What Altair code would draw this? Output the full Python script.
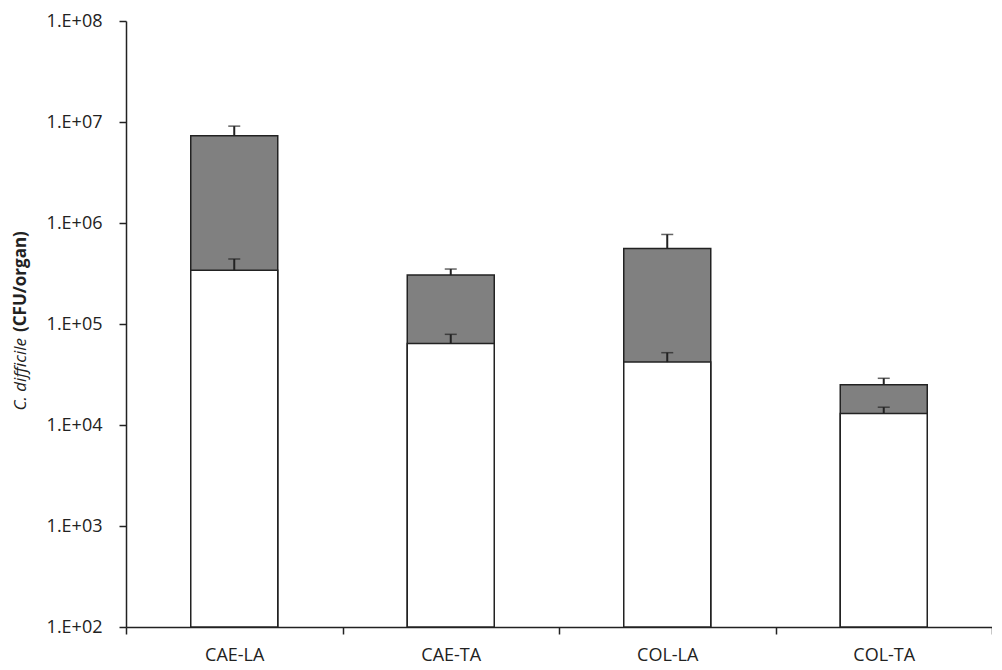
import altair as alt
import pandas as pd

categories = ["CAE-LA", "CAE-TA", "COL-LA", "COL-TA"]
grey_values = [7.3e6, 3.05e5, 5.6e5, 2.5e4]
grey_err_top = [9.1e6, 3.5e5, 7.7e5, 2.9e4]
white_values = [3.4e5, 6.4e4, 4.2e4, 1.3e4]
white_err_top = [4.4e5, 7.9e4, 5.2e4, 1.5e4]
baseline = [1e2, 1e2, 1e2, 1e2]
y_ticks = [1e2, 1e3, 1e4, 1e5, 1e6, 1e7, 1e8]
title_italic = "C. difficile"
title_bold = "(CFU/organ)"

df = pd.DataFrame({
    "cat": categories,
    "grey": grey_values,
    "grey_err": grey_err_top,
    "white": white_values,
    "white_err": white_err_top,
    "base": baseline,
})

FONT = "Open Sans"
INK = "#222222"

x_enc = alt.X(
    "cat:N", sort=categories,
    scale=alt.Scale(paddingInner=0, paddingOuter=0),
    axis=alt.Axis(title=None, labelAngle=0, tickBand="extent", tickSize=7,
                  labelPadding=12, labelFont=FONT, labelFontSize=18,
                  domainColor=INK, tickColor=INK, domainWidth=1.5,
                  tickWidth=1.5, labelColor=INK, grid=False),
)
y_scale = alt.Scale(type="log", domain=[1e2, 1e8], nice=False)
y_axis = alt.Axis(values=y_ticks, title=None, grid=False,
                  labelExpr="'1.E+0' + round(log(datum.value)/LN10)",
                  tickSize=7, labelPadding=17, labelFont=FONT, labelFontSize=18,
                  domainColor=INK, tickColor=INK, domainWidth=1.5,
                  tickWidth=1.5, labelColor=INK)

base = alt.Chart(df)

grey_bar = base.mark_bar(size=87, color="#808080", stroke=INK, strokeWidth=1.5).encode(
    x=x_enc, y=alt.Y("grey:Q", scale=y_scale, axis=y_axis), y2="base:Q")
grey_rule = base.mark_rule(color=INK, strokeWidth=2).encode(
    x=x_enc, y=alt.Y("grey:Q", scale=y_scale, axis=y_axis), y2="grey_err:Q")
grey_cap = base.mark_tick(size=12, thickness=1.5, color=INK).encode(
    x=x_enc, y=alt.Y("grey_err:Q", scale=y_scale, axis=y_axis))
white_bar = base.mark_bar(size=87, color="white", stroke=INK, strokeWidth=1.5).encode(
    x=x_enc, y=alt.Y("white:Q", scale=y_scale, axis=y_axis), y2="base:Q")
white_rule = base.mark_rule(color=INK, strokeWidth=2).encode(
    x=x_enc, y=alt.Y("white:Q", scale=y_scale, axis=y_axis), y2="white_err:Q")
white_cap = base.mark_tick(size=12, thickness=1.5, color=INK).encode(
    x=x_enc, y=alt.Y("white_err:Q", scale=y_scale, axis=y_axis))

t1 = alt.Chart(pd.DataFrame({"t": [title_italic]})).mark_text(
    angle=270, align="right", baseline="middle", font=FONT, fontSize=17,
    fontStyle="italic", fill=INK).encode(
    text="t:N", x=alt.value(-105), y=alt.value(317))
t2 = alt.Chart(pd.DataFrame({"t": [title_bold]})).mark_text(
    angle=270, align="left", baseline="middle", font=FONT, fontSize=17,
    fontWeight="bold", fill=INK).encode(
    text="t:N", x=alt.value(-105), y=alt.value(311))

chart = alt.layer(grey_bar, grey_rule, grey_cap, white_bar, white_rule, white_cap, t1, t2).properties(
    width=866, height=606,
    autosize=alt.AutoSizeParams(type="none"),
    padding={"left": 118, "top": 13, "right": 0, "bottom": 43},
).configure_view(stroke=None)

chart.save("out.html", embed_options={"renderer": "svg", "actions": False})
